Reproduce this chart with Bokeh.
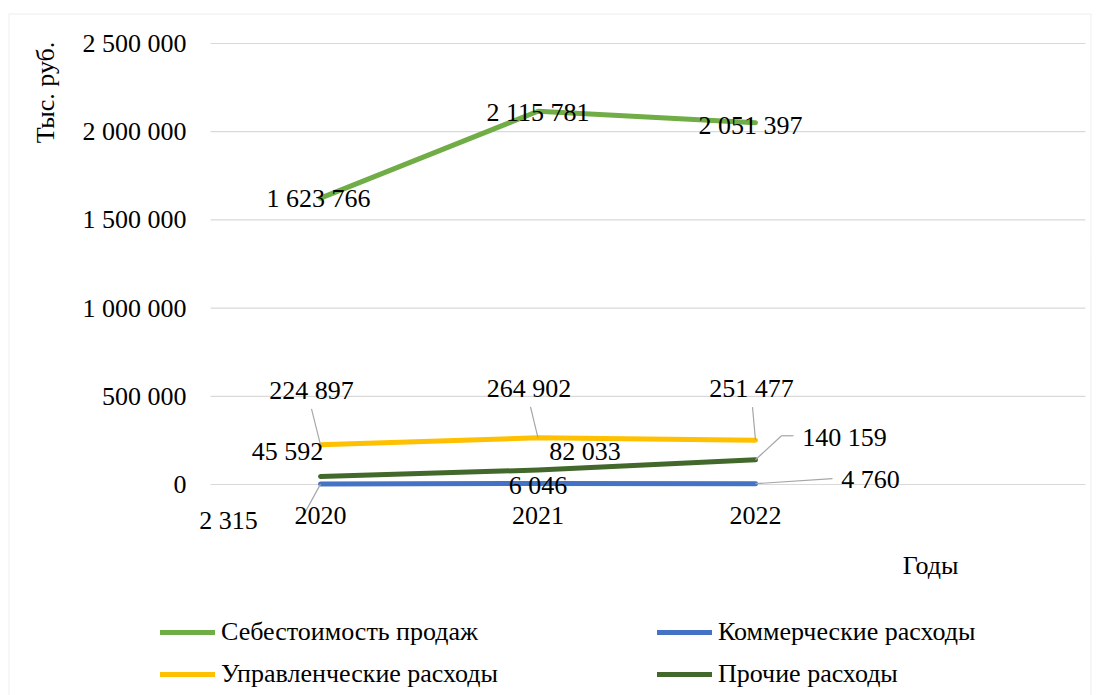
import math
from bokeh.plotting import figure
from bokeh.models import (Range1d, FixedTicker, ColumnDataSource, LabelSet, Label,
                          Legend, LegendItem, BoxAnnotation)
from bokeh.core.properties import value
from bokeh.embed import file_html
from bokeh.resources import INLINE

# ---------------- data ----------------
years = [2020, 2021, 2022]
cost_of_sales = [1623766, 2115781, 2051397]      # Себестоимость продаж
commercial = [2315, 6046, 4760]                  # Коммерческие расходы
administrative = [224897, 264902, 251477]        # Управленческие расходы
other = [45592, 82033, 140159]                   # Прочие расходы

series_names = ["Себестоимость продаж", "Коммерческие расходы",
                "Управленческие расходы", "Прочие расходы"]
y_ticks = [0, 500000, 1000000, 1500000, 2000000, 2500000]
y_tick_labels = ["0", "500 000", "1 000 000", "1 500 000", "2 000 000", "2 500 000"]
x_tick_labels = ["2020", "2021", "2022"]

# ---------------- layout / styles ----------------
FONT = "Liberation Serif"
FS = "26px"
colors = ["#70AD47", "#4472C4", "#FFC000", "#43682B"]

W, H = 1098, 695
X_FIRST, X_STEP = 320.0, 217.5        # pixel of first year, pixels per year
PLOT_L, PLOT_R = 210.0, 1085.0        # visible plot area left/right (px)
Y_ZERO, Y_TOP = 484.0, 43.0           # pixel of 0 and of the top tick
YMAX = y_ticks[-1]
upp_y = YMAX / (Y_ZERO - Y_TOP)       # data units per pixel (y)
upp_x = 1.0 / X_STEP                  # data units per pixel (x)

x0 = years[0] - X_FIRST * upp_x
x1 = years[0] + (W - X_FIRST) * upp_x
y0 = -(H - Y_ZERO) * upp_y
y1 = YMAX + Y_TOP * upp_y

p = figure(width=W, height=H, output_backend="svg", toolbar_location=None,
           x_range=Range1d(x0, x1), y_range=Range1d(y0, y1),
           min_border=0, min_border_left=0, min_border_right=0,
           min_border_top=0, min_border_bottom=0)
p.outline_line_color = None
p.background_fill_color = "white"
p.border_fill_color = "white"

# axes drawn at fixed data locations inside the full-canvas frame
plot_left_x = years[0] + (PLOT_L - X_FIRST) * upp_x
plot_right_x = years[0] + (PLOT_R - X_FIRST) * upp_x
p.yaxis.fixed_location = plot_left_x
p.xaxis.fixed_location = 0
p.yaxis.ticker = FixedTicker(ticks=y_ticks)
p.yaxis.major_label_overrides = {t: l for t, l in zip(y_ticks, y_tick_labels)}
p.xaxis.ticker = FixedTicker(ticks=years)
p.xaxis.major_label_overrides = {y: l for y, l in zip(years, x_tick_labels)}
for ax in (p.xaxis[0], p.yaxis[0]):
    ax.axis_line_color = None
    ax.major_tick_line_color = None
    ax.minor_tick_line_color = None
    ax.major_label_text_font = FONT
    ax.major_label_text_font_size = FS
    ax.major_label_text_color = "black"
p.yaxis.major_label_standoff = 18
p.xaxis.major_label_standoff = 16
p.xgrid.grid_line_color = None
p.ygrid.grid_line_color = None

# horizontal gridlines limited to the plot area, at the axis ticks
p.segment(x0=[plot_left_x] * len(y_ticks), x1=[plot_right_x] * len(y_ticks),
          y0=y_ticks, y1=y_ticks, line_color="#d9d9d9", line_width=1.2, level="underlay")

# outer chart border
p.add_layout(BoxAnnotation(left=8.5, right=1090.5, top=13.5, bottom=H + 20,
                           left_units="canvas", right_units="canvas",
                           top_units="canvas", bottom_units="canvas",
                           fill_alpha=0, line_color="#d9d9d9", line_width=1.5))

all_series = [cost_of_sales, commercial, administrative, other]
renderers = []
for vals, c in zip(all_series, colors):
    r = p.line(years, vals, line_color=c, line_width=5, line_cap="round", line_join="round")
    renderers.append(r)

# ---------------- leader lines ----------------
# (series index, year index, pixel offsets along the leader: dx right, dy up)
leaders = [
    (2, 0, [(0, 0), (-9, 36)]),
    (2, 1, [(0, 0), (-7.5, 31)]),
    (2, 2, [(0, 0), (-3, 33)]),
    (3, 2, [(0, 0), (26, 24), (38, 24)]),
    (1, 2, [(0, 0), (77, 5)]),
    (1, 0, [(0, 0), (-18, -33)]),
]
sx0, sy0, sx1, sy1 = [], [], [], []
for si, yi, pts in leaders:
    bx, by = years[yi], all_series[si][yi]
    for (ax_, ay_), (bx_, by_) in zip(pts[:-1], pts[1:]):
        sx0.append(bx + ax_ * upp_x); sy0.append(by + ay_ * upp_y)
        sx1.append(bx + bx_ * upp_x); sy1.append(by + by_ * upp_y)
p.segment(x0=sx0, y0=sy0, x1=sx1, y1=sy1, line_color="#a6a6a6", line_width=1.2)

# ---------------- data labels ----------------
# pixel offsets of label centres from their points (dx right, dy up)
label_offsets = [
    [(-2, 0), (0, -1), (-5, -3)],           # cost of sales
    [(-92, -36), (0, -2), (115, 4)],        # commercial
    [(-9, 54), (-9, 49), (-4, 52)],         # administrative
    [(-33, 25), (47, 19), (89, 22)],        # other
]
lx, ly, lt, ldx, ldy = [], [], [], [], []
for vals, offs in zip(all_series, label_offsets):
    for x, v, (dx, dy) in zip(years, vals, offs):
        lx.append(x); ly.append(v)
        lt.append(f"{v:,}".replace(",", " "))
        ldx.append(dx); ldy.append(dy)
lsrc = ColumnDataSource(dict(x=lx, y=ly, t=lt, dx=ldx, dy=ldy))
p.add_layout(LabelSet(x="x", y="y", text="t", source=lsrc, x_offset="dx", y_offset="dy",
                      text_font=value(FONT), text_font_size=value(FS), text_color="black",
                      text_align="center", text_baseline="middle"))

# ---------------- axis titles ----------------
p.add_layout(Label(x=45, y=H - 92, x_units="screen", y_units="screen", text="Тыс. руб.",
                   angle=math.pi / 2, text_font=FONT, text_font_size=FS, text_color="black",
                   text_align="center", text_baseline="middle"))
p.add_layout(Label(x=930, y=H - 565, x_units="screen", y_units="screen", text="Годы",
                   text_font=FONT, text_font_size=FS, text_color="black",
                   text_align="center", text_baseline="middle"))

# ---------------- legends ----------------
def make_legend(items, loc):
    return Legend(items=items, location=loc, orientation="vertical",
                  label_text_font=FONT, label_text_font_size=FS, label_text_color="black",
                  glyph_width=55, glyph_height=28, label_height=28, label_standoff=6,
                  spacing=12, padding=0, margin=0, border_line_color=None,
                  background_fill_alpha=0)

leg1 = make_legend([LegendItem(label=series_names[0], renderers=[renderers[0]]),
                    LegendItem(label=series_names[2], renderers=[renderers[2]])], (160, 6))
leg2 = make_legend([LegendItem(label=series_names[1], renderers=[renderers[1]]),
                    LegendItem(label=series_names[3], renderers=[renderers[3]])], (657, 6))
p.add_layout(leg1, "center")
p.add_layout(leg2, "center")

open("out.html", "w").write(file_html(p, INLINE))
